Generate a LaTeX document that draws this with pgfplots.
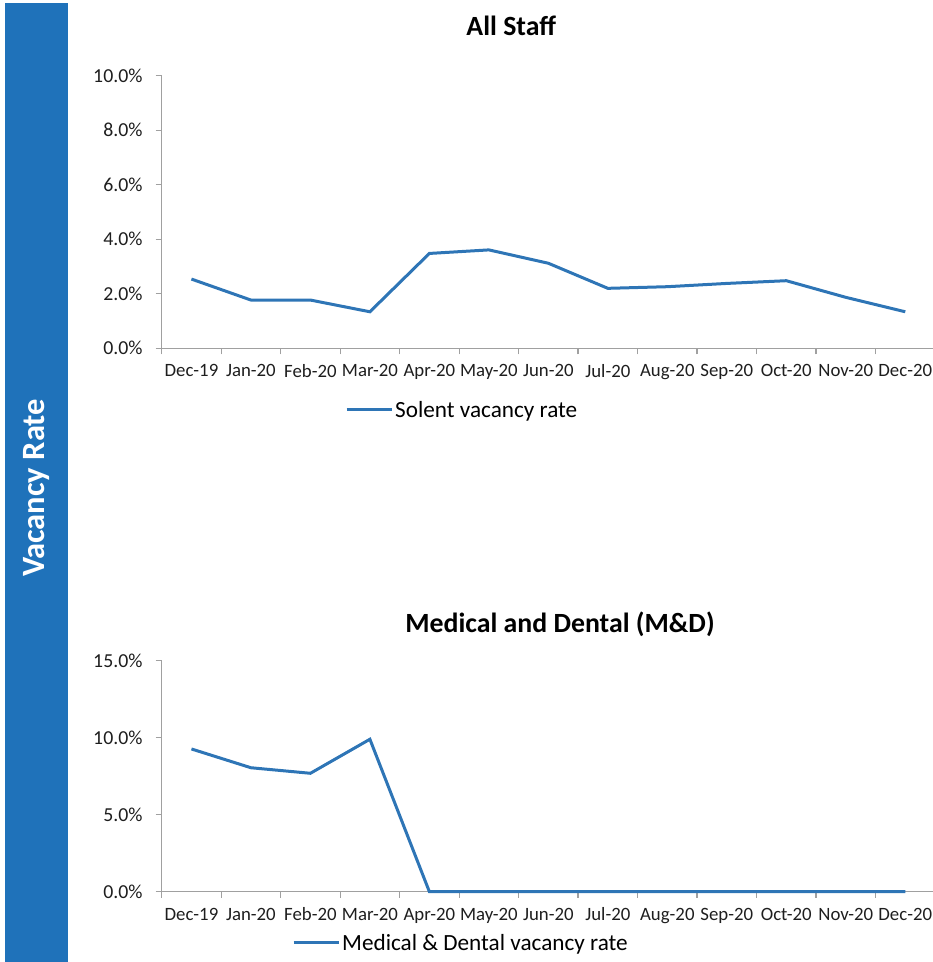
\documentclass[border=0pt]{standalone}
\usepackage{fontspec}
\setmainfont{Carlito}
\usepackage{pgfplots}
\pgfplotsset{compat=1.18}
\definecolor{band}{RGB}{31,114,186}
\definecolor{ln}{RGB}{46,117,182}
\definecolor{ax}{RGB}{160,160,160}
\definecolor{txt}{RGB}{30,30,30}
\pgfplotsset{myax/.style={
  scale only axis, width=773.3pt,
  xmin=-0.5, xmax=12.5,
  axis x line*=bottom, axis y line*=left,
  axis line style={ax, line width=1.2pt, -},
  xtick={0,...,12},
  xticklabels={Dec-19,Jan-20,Feb-20,Mar-20,Apr-20,May-20,Jun-20,Jul-20,Aug-20,Sep-20,Oct-20,Nov-20,Dec-20},
  major x tick style={draw=none},
  minor xtick={-0.5,0.5,...,12.5},
  minor tick length=6pt,
  major tick length=6pt,
  tick align=outside,
  tick style={ax, line width=1.2pt},
  xticklabel style={font=\fontsize{18.8}{20}\selectfont, text=txt, inner sep=0pt, yshift=-10pt},
  yticklabel style={font=\fontsize{19.8}{21}\selectfont, text=txt, inner sep=0pt, xshift=-13pt},
  title style={font=\bfseries\fontsize{27.8}{30}\selectfont, anchor=center},
  legend style={draw=none, fill=none, inner sep=0pt, anchor=west, font=\fontsize{23.2}{25}\selectfont, legend cell align=left},
  legend image code/.code={\draw[#1] (0pt,0pt) -- (45pt,0pt);},
  clip=false,
}}
\begin{document}
\begin{tikzpicture}
\useasboundingbox (0pt,0pt) rectangle (933pt,-962pt);
\fill[band] (5pt,-3pt) rectangle (68pt,-962pt);
\node[rotate=90, white, font=\bfseries\fontsize{32.5}{34}\selectfont] at (36.5pt,-488pt) {Vacancy Rate};
\begin{axis}[myax, at={(161.7pt,-348.3pt)}, anchor=south west, height=272.6pt,
  ymin=0, ymax=10, ytick={0,2,4,6,8,10},
  yticklabels={0.0\%,2.0\%,4.0\%,6.0\%,8.0\%,10.0\%},
  title={All Staff}, title style={at={(0.452,1.160)}},
  legend style={at={(0.237,-0.226)}}]
\addplot[ln, line width=3pt] coordinates {(0,2.54) (1,1.77) (2,1.77) (3,1.34) (4,3.48) (5,3.61) (6,3.12) (7,2.20) (8,2.26) (9,2.38) (10,2.48) (11,1.87) (12,1.34)};
\addlegendentry{Solent vacancy rate}
\end{axis}
\begin{axis}[myax, at={(161.7pt,-891.7pt)}, anchor=south west, height=231pt,
  ymin=0, ymax=15, ytick={0,5,10,15},
  yticklabels={0.0\%,5.0\%,10.0\%,15.0\%},
  title={Medical and Dental (M\&D)}, title style={at={(0.515,1.133)}},
  legend style={at={(0.1685,-0.222)}}]
\addplot[ln, line width=3pt] coordinates {(0,9.27) (1,8.05) (2,7.69) (3,9.90) (4,0) (5,0) (6,0) (7,0) (8,0) (9,0) (10,0) (11,0) (12,0)};
\addlegendentry{Medical \& Dental vacancy rate}
\end{axis}
\end{tikzpicture}
\end{document}
